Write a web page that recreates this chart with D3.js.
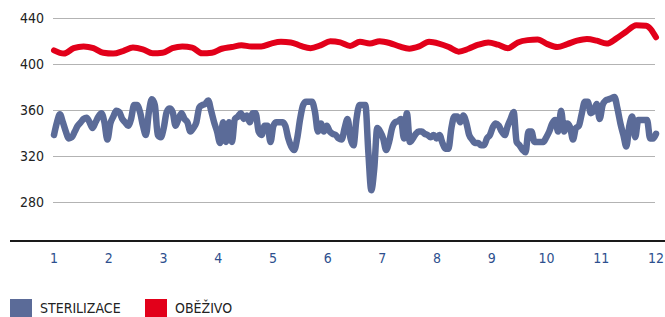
<!DOCTYPE html>
<html>
<head>
<meta charset="utf-8">
<script src="https://cdn.jsdelivr.net/npm/d3@7"></script>
<style>
  body { margin: 0; background: #fff; }
  svg { display: block; }
</style>
</head>
<body>
<div id="chart"></div>
<script>
// Month ticks on the x-axis
const months = [1, 2, 3, 4, 5, 6, 7, 8, 9, 10, 11, 12];
// y-axis ticks
const yTicks = [280, 320, 360, 400, 440];

// Series names for the legend
const seriesNames = ['STERILIZACE', 'OBĚŽIVO'];

// STERILIZACE - daily values
const sterilizace = [
  338, 349, 356, 349, 341, 335, 336, 341, 346, 349, 352, 353, 349, 344, 349, 354, 357, 349, 334, 348,
  354, 359, 358, 352, 349, 346, 352, 364, 364, 358, 346, 338, 358, 369, 364, 338, 336, 344, 358, 361,
  358, 346, 352, 357, 352, 349, 341, 344, 349,
  362, 364, 365, 368, 359, 349, 341, 331, 349, 332, 349, 332, 352, 354, 357, 352, 355, 349, 357, 357,
  341, 338, 346, 346, 332, 346, 349, 349, 349, 346, 335, 328, 325, 335, 352, 364, 367, 367, 367,
  358, 341, 348, 341, 346, 341, 339, 338, 335, 334, 344,
  352, 335, 329, 352, 364, 364, 364, 323, 290, 309, 344, 341, 335, 325, 332, 344, 349, 350, 352,
  335, 357, 332, 335, 339, 341, 341, 339, 338, 336, 338, 335, 338, 331, 326, 326, 344, 354, 354, 349,
  355, 349, 338, 334, 331, 331, 329, 329, 335, 338, 345, 348,
  346, 341, 338, 346, 352, 358, 332, 329, 325, 323, 341, 341, 332, 332, 332, 332, 336, 341, 348, 351,
  341, 359, 341, 348, 345, 334, 344, 346, 357, 367, 367, 357, 359, 365, 352, 364, 368, 369, 370, 371,
  361, 348, 338, 328, 346, 354, 336, 351, 351, 351, 351, 335, 335, 339
];

// OBĚŽIVO - values
const obezivo = [
  411.6, 408.8, 413.5, 415, 413.5, 409.5, 408.8, 411, 414, 412.5, 409, 409.5, 413.5, 415, 414, 409,
  409.5, 413, 414.5, 416, 415, 415, 417.5, 419, 418.5, 415.5, 413.5, 416, 419.5, 418.5, 415.5, 419,
  417.5, 419.5, 418, 415, 413, 415, 419, 417.5, 414.5, 410.5, 413, 416.5, 418.5, 416.5, 413.5, 418.5,
  420.5, 421, 417, 414.5, 417, 420, 421.5, 420, 417.5, 422, 428, 433.5, 433, 423
];

const colors = ['#5b6b98', '#e2001a'];

const width = 665;
const height = 317;

const x = d3.scaleLinear()
  .domain([1, 12])
  .range([54, 656]);

const y = d3.scaleLinear()
  .domain([280, 440])
  .range([201.7, 17.7]);

const svg = d3.select('#chart')
  .append('svg')
  .attr('width', width)
  .attr('height', height);

// gridlines
svg.append('g')
  .selectAll('line')
  .data(yTicks)
  .enter()
  .append('line')
  .attr('x1', 53)
  .attr('x2', 655)
  .attr('y1', d => Math.round(y(d)) + 0.5)
  .attr('y2', d => Math.round(y(d)) + 0.5)
  .attr('stroke', '#b3b3b3')
  .attr('stroke-width', 1);

// y labels
svg.append('g')
  .selectAll('text')
  .data(yTicks)
  .enter()
  .append('text')
  .attr('x', 44)
  .attr('y', d => y(d) + 5)
  .attr('text-anchor', 'end')
  .style('font-family', '"Liberation Sans Narrow", "DejaVu Sans Condensed", sans-serif')
  .style('font-size', '14px')
  .style('fill', '#222')
  .text(d => d);

// horizontal axis line
svg.append('line')
  .attr('x1', 10)
  .attr('x2', 665)
  .attr('y1', 241)
  .attr('y2', 241)
  .attr('stroke', '#1a1a1a')
  .attr('stroke-width', 2);

// month labels
svg.append('g')
  .selectAll('text')
  .data(months)
  .enter()
  .append('text')
  .attr('x', d => x(d))
  .attr('y', 263)
  .attr('text-anchor', 'middle')
  .style('font-family', '"Liberation Sans Narrow", "DejaVu Sans Condensed", sans-serif')
  .style('font-size', '14px')
  .style('fill', '#2d4f8e')
  .text(d => d);

// lines - points evenly spread from month 1 to month 12
function drawSeries(values, color, w) {
  const pos = d3.scaleLinear().domain([0, values.length - 1]).range([1, 12]);
  const line = d3.line()
    .x((d, i) => x(pos(i)))
    .y(d => y(d))
    .curve(d3.curveMonotoneX);
  svg.append('path')
    .datum(values)
    .attr('d', line)
    .attr('fill', 'none')
    .attr('stroke', color)
    .attr('stroke-width', w)
    .attr('stroke-linejoin', 'round')
    .attr('stroke-linecap', 'round');
}

drawSeries(sterilizace, colors[0], 6.5);
drawSeries(obezivo, colors[1], 6);

// legend
const legendX = [10, 145];
const legend = svg.append('g')
  .selectAll('g')
  .data(seriesNames)
  .enter()
  .append('g')
  .attr('transform', (d, i) => `translate(${legendX[i]},299)`);

legend.append('rect')
  .attr('width', 22)
  .attr('height', 20)
  .attr('fill', (d, i) => colors[i]);

legend.append('text')
  .attr('x', 30)
  .attr('y', 14)
  .style('font-family', '"Liberation Sans Narrow", "DejaVu Sans Condensed", sans-serif')
  .style('font-size', '14px')
  .style('fill', '#222')
  .text(d => d);
</script>
</body>
</html>
